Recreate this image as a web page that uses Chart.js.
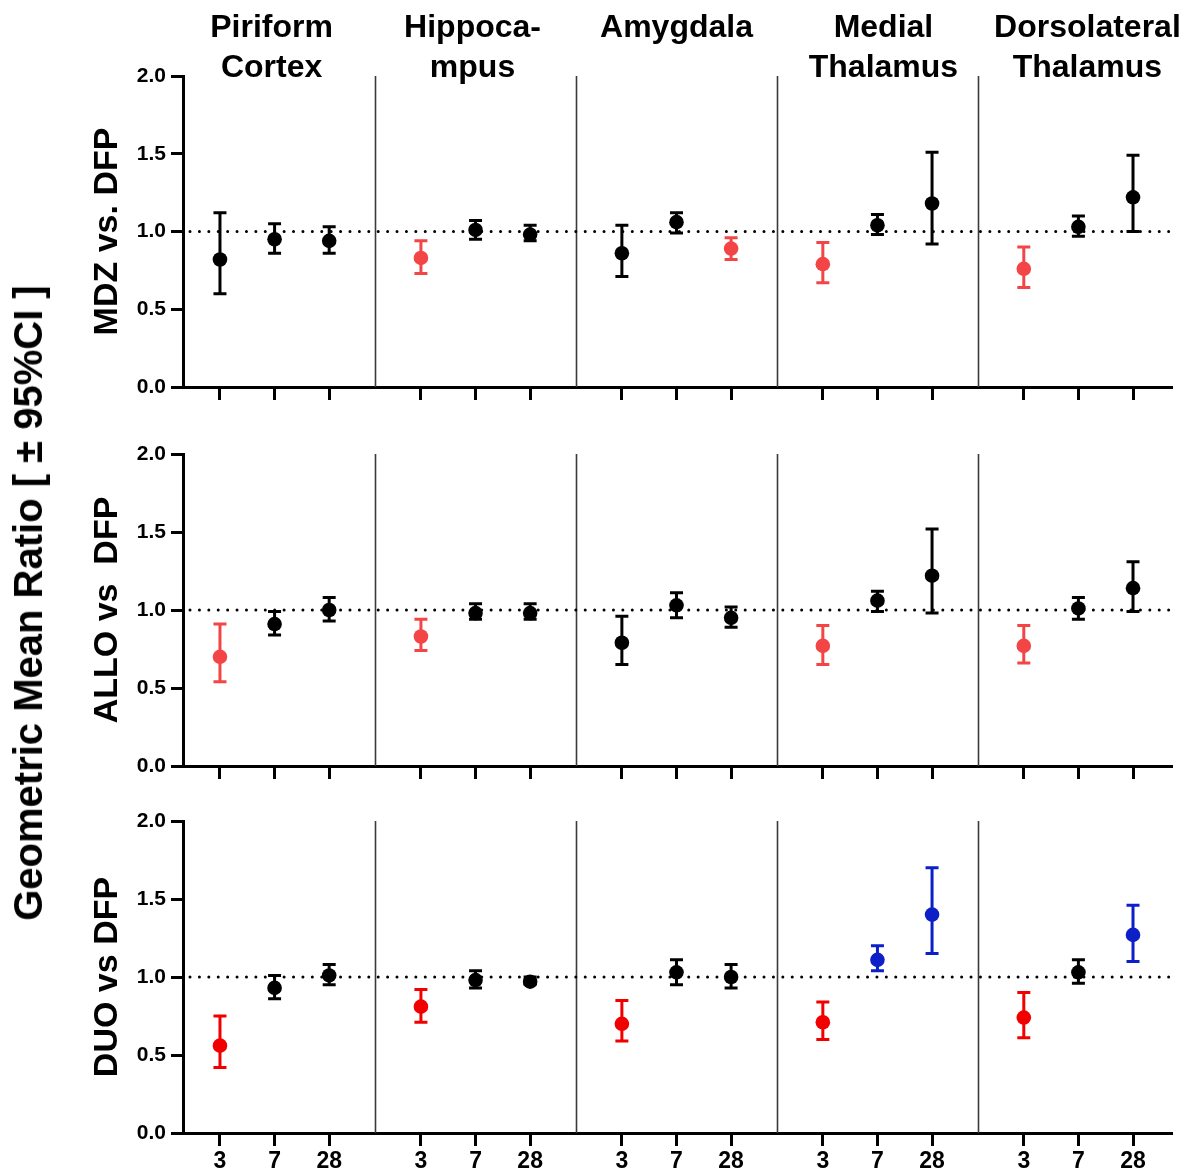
<!DOCTYPE html>
<html><head><meta charset="utf-8">
<script src="https://cdn.jsdelivr.net/npm/chart.js@4.4.0/dist/chart.umd.min.js"></script>
<style>
html,body{margin:0;padding:0;background:#fff;}
#wrap{position:relative;width:1192px;height:1174px;overflow:hidden;background:#fff;}
.row{position:absolute;left:0;}
#ytitle{position:absolute;left:28px;top:603px;transform:translate(-50%,-50%) rotate(-90deg);font:bold 40px "Liberation Sans",Arial,sans-serif;white-space:nowrap;color:#000;line-height:1;}
</style></head><body>
<div id="wrap">
<canvas id="c0" class="row" width="1192" height="420" style="top:0"></canvas>
<canvas id="c1" class="row" width="1192" height="380" style="top:420px"></canvas>
<canvas id="c2" class="row" width="1192" height="374" style="top:800px"></canvas>
<div id="ytitle">Geometric Mean Ratio [ ± 95%CI ]</div>
</div>
<script>
// ---------------- data ----------------
const regions = [['Piriform','Cortex'],['Hippoca-','mpus'],['Amygdala'],['Medial','Thalamus'],['Dorsolateral','Thalamus']];
const days = ['3','7','28'];
const comparisons = ['MDZ vs. DFP','ALLO vs  DFP','DUO vs DFP'];
const yTickValues = [0, 0.5, 1.0, 1.5, 2.0];

// order: region-major, day-minor (3, 7, 28)
const mdzMean = [0.82,0.95,0.94, 0.83,1.01,0.98, 0.86,1.06,0.89, 0.79,1.04,1.18, 0.76,1.03,1.22];
const mdzLow  = [0.60,0.86,0.86, 0.73,0.95,0.94, 0.71,0.99,0.82, 0.67,0.98,0.92, 0.64,0.97,1.00];
const mdzHigh = [1.12,1.05,1.03, 0.94,1.07,1.04, 1.04,1.12,0.96, 0.93,1.11,1.51, 0.90,1.10,1.49];
const mdzSig  = ['ns','ns','ns', 'down','ns','ns', 'ns','ns','down', 'down','ns','ns', 'down','ns','ns'];

const alloMean = [0.70,0.91,1.00, 0.83,0.98,0.98, 0.79,1.03,0.95, 0.77,1.06,1.22, 0.77,1.01,1.14];
const alloLow  = [0.54,0.84,0.93, 0.74,0.94,0.94, 0.65,0.95,0.89, 0.65,0.99,0.98, 0.66,0.94,0.99];
const alloHigh = [0.91,0.99,1.08, 0.94,1.04,1.04, 0.96,1.11,1.02, 0.90,1.12,1.52, 0.90,1.08,1.31];
const alloSig  = ['down','ns','ns', 'down','ns','ns', 'ns','ns','ns', 'down','ns','ns', 'down','ns','ns'];

const duoMean = [0.56,0.93,1.01, 0.81,0.98,0.97, 0.70,1.03,1.00, 0.71,1.11,1.40, 0.74,1.03,1.27];
const duoLow  = [0.42,0.86,0.95, 0.71,0.93,0.955, 0.59,0.95,0.93, 0.60,1.04,1.15, 0.61,0.96,1.10];
const duoHigh = [0.75,1.01,1.08, 0.92,1.04,1.00, 0.85,1.11,1.08, 0.84,1.20,1.70, 0.90,1.11,1.46];
const duoSig  = ['down','ns','ns', 'down','ns','ns', 'down','ns','ns', 'down','up','up', 'down','ns','up'];

const rowsData = [
  {mean: mdzMean, low: mdzLow, high: mdzHigh, sig: mdzSig},
  {mean: alloMean, low: alloLow, high: alloHigh, sig: alloSig},
  {mean: duoMean, low: duoLow, high: duoHigh, sig: duoSig}
];

// ---------------- layout / style ----------------
const FONT = '"Liberation Sans", Arial, Helvetica, sans-serif';
const GROUP_W = 3.68;            // width of one region block in x units
const X_MIN = -0.677, X_MAX = 17.434;
const rowLayout = [
  {padTop: 76, xH: 33},
  {padTop: 34, xH: 34},
  {padTop: 21, xH: 41}
];
const headerShift = [-3, -3, 0, 6, 9];
const sigColors = [
  {ns: '#000000', down: '#f34545', up: '#0d1fc6'},
  {ns: '#000000', down: '#f34545', up: '#0d1fc6'},
  {ns: '#000000', down: '#f20000', up: '#0d1fc6'}
];
const xPos = i => Math.floor(i / days.length) * GROUP_W + (i % days.length);
const tickPositions = [];
regions.forEach((r, c) => days.forEach((d, j) => tickPositions.push(c * GROUP_W + j)));

function makeChart(canvasId, row) {
  const D = rowsData[row];
  const L = rowLayout[row];
  const colors = D.sig.map(s => sigColors[row][s]);
  const isLast = row === rowsData.length - 1;

  const decor = {
    id: 'decor' + row,
    beforeDatasetsDraw(chart) {
      const {ctx, chartArea: a, scales: {x, y}} = chart;
      ctx.save();
      // region separators
      ctx.strokeStyle = '#3a3a3a';
      ctx.lineWidth = 1.6;
      for (let c = 1; c < regions.length; c++) {
        const px = Math.round(x.getPixelForValue(c * GROUP_W - (GROUP_W - 2) / 2)) + 0.5;
        ctx.beginPath(); ctx.moveTo(px, a.top); ctx.lineTo(px, a.bottom); ctx.stroke();
      }
      // dotted reference line at 1.0
      const py = y.getPixelForValue(1);
      ctx.setLineDash([0.01, 9.4]);
      ctx.lineCap = 'round';
      ctx.lineWidth = 3;
      ctx.strokeStyle = '#000';
      ctx.beginPath(); ctx.moveTo(a.left + 7, py); ctx.lineTo(a.right, py); ctx.stroke();
      ctx.setLineDash([]);
      ctx.lineCap = 'butt';
      // error bars
      ctx.lineWidth = 3;
      D.mean.forEach((m, i) => {
        const px = x.getPixelForValue(xPos(i));
        const pl = y.getPixelForValue(D.low[i]);
        const ph = y.getPixelForValue(D.high[i]);
        ctx.strokeStyle = colors[i];
        ctx.beginPath();
        ctx.moveTo(px, pl); ctx.lineTo(px, ph);
        ctx.moveTo(px - 6.5, pl); ctx.lineTo(px + 6.5, pl);
        ctx.moveTo(px - 6.5, ph); ctx.lineTo(px + 6.5, ph);
        ctx.stroke();
      });
      ctx.restore();
    },
    afterDraw(chart) {
      if (row !== 0) return;
      const {ctx, scales: {x}} = chart;
      ctx.save();
      ctx.fillStyle = '#000';
      ctx.font = 'bold 32px ' + FONT;
      ctx.textAlign = 'center';
      ctx.textBaseline = 'alphabetic';
      regions.forEach((lines, c) => {
        const cx = x.getPixelForValue(c * GROUP_W + 1) + headerShift[c];
        lines.forEach((t, k) => ctx.fillText(t, cx, 37 + k * 40));
      });
      ctx.restore();
    }
  };

  return new Chart(document.getElementById(canvasId), {
    type: 'scatter',
    data: {
      datasets: [{
        data: D.mean.map((m, i) => ({x: xPos(i), y: m})),
        pointRadius: 7.3,
        pointHoverRadius: 7.3,
        pointBackgroundColor: colors,
        pointBorderWidth: 0,
        showLine: false
      }]
    },
    options: {
      responsive: false,
      animation: false,
      devicePixelRatio: 1,
      layout: {padding: {left: 87, right: 20, top: L.padTop, bottom: 0}},
      plugins: {legend: {display: false}, tooltip: {enabled: false}},
      scales: {
        x: {
          type: 'linear', min: X_MIN, max: X_MAX,
          afterBuildTicks: s => { s.ticks = tickPositions.map(v => ({value: v})); },
          afterFit: s => { s.height = L.xH; },
          grid: {display: true, drawOnChartArea: false, drawTicks: true, tickLength: 13, tickWidth: 3, tickColor: '#000'},
          border: {display: true, color: '#000', width: 3},
          ticks: {
            autoSkip: false, maxRotation: 0, minRotation: 0, padding: 2, color: '#000',
            font: {family: FONT, size: 23, weight: 'bold'},
            callback: (v, i) => isLast ? days[i % days.length] : ''
          }
        },
        y: {
          min: 0, max: 2,
          afterBuildTicks: s => { s.ticks = yTickValues.map(v => ({value: v})); },
          afterFit: s => { s.width = 96; },
          title: {display: true, text: comparisons[row], color: '#000', padding: 0,
                  font: {family: FONT, size: 34, weight: 'bold'}},
          grid: {display: true, drawOnChartArea: false, drawTicks: true, tickLength: 12, tickWidth: 3, tickColor: '#000'},
          border: {display: true, color: '#000', width: 3},
          ticks: {padding: 5, color: '#000', font: {family: FONT, size: 21, weight: 'bold'},
                  callback: v => Number(v).toFixed(1)}
        }
      }
    },
    plugins: [decor]
  });
}

makeChart('c0', 0);
makeChart('c1', 1);
makeChart('c2', 2);
</script>
</body></html>
